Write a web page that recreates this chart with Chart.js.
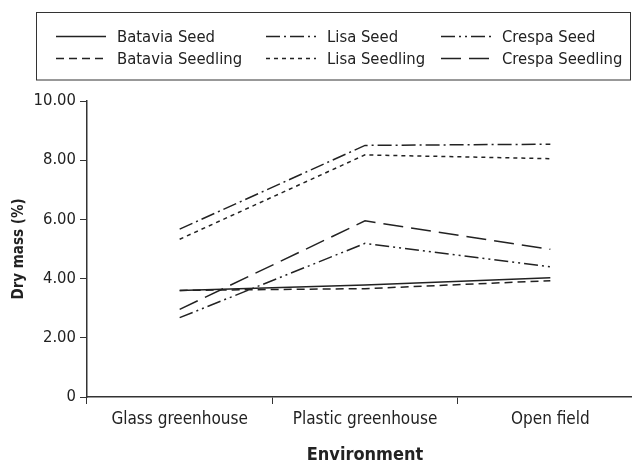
<!DOCTYPE html>
<html>
<head>
<meta charset="utf-8">
<script src="https://cdn.jsdelivr.net/npm/chart.js@4.4.1/dist/chart.umd.min.js"></script>
<style>
  html, body { margin: 0; padding: 0; background: #fff; overflow: hidden; }
  #wrap { width: 632px; height: 464px; overflow: hidden; }
</style>
</head>
<body>
<div id="wrap"><canvas id="chart" width="650" height="464"></canvas></div>
<script>
// Dry mass (%) by growing environment
const environments = ['Glass greenhouse', 'Plastic greenhouse', 'Open field'];
const bataviaSeed = [3.60, 3.78, 4.03];
const bataviaSeedling = [3.60, 3.66, 3.93];
const lisaSeed = [5.67, 8.50, 8.54];
const lisaSeedling = [5.33, 8.18, 8.05];
const crespaSeed = [2.68, 5.19, 4.40];
const crespaSeedling = [2.96, 5.95, 4.99];
const yTicks = [0, 2, 4, 6, 8, 10];

const FONT = "'Liberation Sans Narrow', 'DejaVu Sans Condensed', sans-serif";
const INK = '#222';

Chart.defaults.font.family = FONT;
Chart.defaults.color = INK;

// legend grid: 3 columns x 2 rows inside a framed box
const legendCols = [56, 266, 441];
const legendRows = [36.5, 58.5];

const boxLegend = {
  id: 'boxLegend',
  afterDraw(chart) {
    const ctx = chart.ctx;
    ctx.save();
    ctx.strokeStyle = '#333';
    ctx.lineWidth = 1;
    ctx.strokeRect(36.5, 12.5, 594, 67.5);
    ctx.font = `16.5px ${FONT}`;
    ctx.textBaseline = 'middle';
    ctx.fillStyle = INK;
    chart.data.datasets.forEach((ds, i) => {
      const x = legendCols[Math.floor(i / 2)];
      const y = legendRows[i % 2];
      ctx.beginPath();
      ctx.setLineDash(ds.borderDash || []);
      ctx.lineWidth = ds.borderWidth;
      ctx.strokeStyle = ds.borderColor;
      ctx.moveTo(x, y);
      ctx.lineTo(x + 50, y);
      ctx.stroke();
      ctx.setLineDash([]);
      ctx.fillText(ds.label, x + 61, y + 1);
    });
    ctx.restore();
  }
};

function line(label, data, dash) {
  return {
    label: label,
    data: data,
    borderColor: INK,
    borderWidth: 1.5,
    borderDash: dash,
    pointRadius: 0,
    tension: 0,
    fill: false
  };
}

new Chart(document.getElementById('chart'), {
  type: 'line',
  data: {
    labels: environments,
    datasets: [
      line('Batavia Seed', bataviaSeed, []),
      line('Batavia Seedling', bataviaSeedling, [8, 5]),
      line('Lisa Seed', lisaSeed, [14, 4, 2, 4]),
      line('Lisa Seedling', lisaSeedling, [4, 4]),
      line('Crespa Seed', crespaSeed, [14, 4, 2, 4, 2, 4]),
      line('Crespa Seedling', crespaSeedling, [20, 8])
    ]
  },
  options: {
    responsive: false,
    animation: false,
    layout: { padding: { top: 101, right: 7, left: 0, bottom: 0 } },
    plugins: {
      legend: { display: false },
      tooltip: { enabled: false }
    },
    scales: {
      x: {
        offset: true,
        afterFit(scale) { scale.height = 67; },
        grid: { offset: true, drawOnChartArea: false, tickLength: 7, color: '#333' },
        border: { color: '#333', width: 1.5 },
        ticks: { font: { size: 17 }, padding: 5, maxRotation: 0, autoSkip: false },
        title: {
          display: true,
          text: 'Environment',
          font: { size: 18, weight: 'bold', lineHeight: 1 },
          padding: { top: 0, bottom: 0 }
        }
      },
      y: {
        min: yTicks[0],
        max: yTicks[yTicks.length - 1],
        afterFit(scale) { scale.width = 87; },
        afterBuildTicks(scale) { scale.ticks = yTicks.map(v => ({ value: v })); },
        grid: { drawOnChartArea: false, tickLength: 7, color: '#333' },
        border: { color: '#333', width: 1.5 },
        ticks: {
          font: { size: 16.5 },
          padding: 4,
          callback: v => (v === 0 ? '0' : v.toFixed(2))
        },
        title: {
          display: true,
          text: 'Dry mass (%)',
          font: { size: 15, weight: 'bold', lineHeight: 1 },
          padding: { top: 12, bottom: 0 }
        }
      }
    }
  },
  plugins: [boxLegend]
});
</script>
</body>
</html>
